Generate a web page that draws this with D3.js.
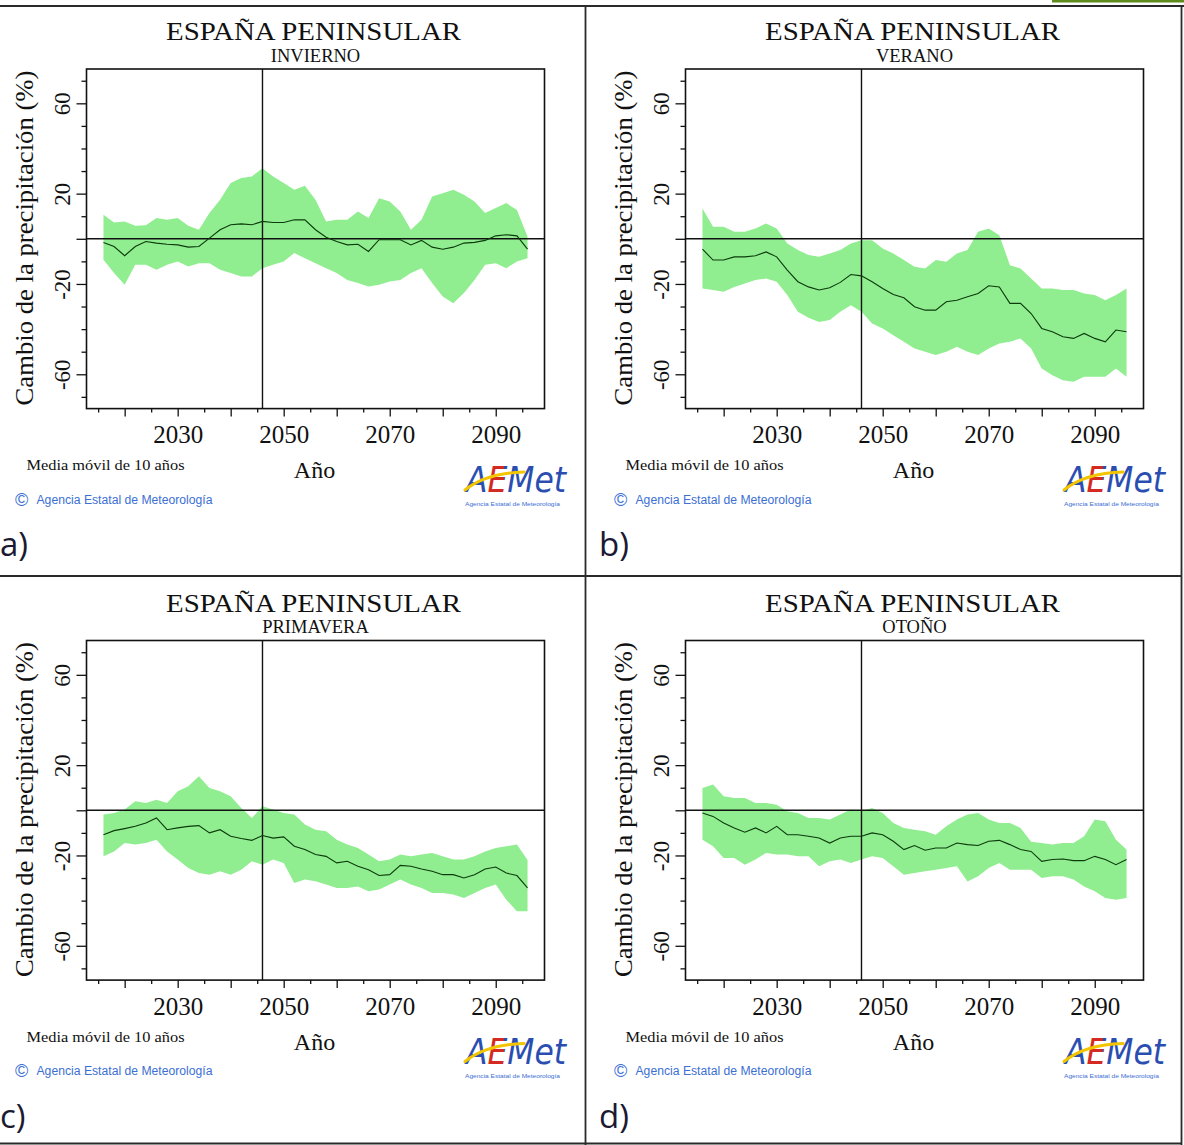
<!DOCTYPE html>
<html>
<head>
<meta charset="utf-8">
<script src="https://cdn.jsdelivr.net/npm/d3@7"></script>
<style>
html,body{margin:0;padding:0;background:#fff;}
svg{display:block;}
</style>
</head>
<body>
<svg id="chart" width="1184" height="1145"></svg>
<script>
// ---------------- DATA ----------------
const years = [2016,2018,2020,2022,2024,2026,2028,2030,2032,2034,2036,2038,2040,2042,2044,2046,2048,2050,2052,2054,2056,2058,2060,2062,2064,2066,2068,2070,2072,2074,2076,2078,2080,2082,2084,2086,2088,2090,2092,2094,2096];

const invUpper = [10.6,7.2,7.7,5.8,6,9.2,8.4,9.2,5.8,4,11.4,17.3,24.7,26.9,27.6,31.3,27.6,24.7,21.7,23.5,17.3,7.7,8.4,8.4,12.1,9.2,18,16.5,12.1,4,8.4,18.7,20.2,21.7,19.5,16.5,11.4,13.6,15.8,12.8,1];
const invLower = [-9.3,-15.2,-20.4,-11.5,-11.5,-13.7,-11.5,-10,-12.3,-10.8,-10.8,-13.7,-15.2,-16.7,-16.7,-13,-11.5,-10,-6.3,-8.6,-10.8,-13,-15.2,-18.2,-19.6,-21.1,-20.4,-18.9,-18.2,-15.2,-13,-19.6,-25.5,-28.5,-24,-18.2,-11.5,-10.8,-13,-10,-8.6];
const invMean  = [-1.6,-3.4,-7.5,-3.4,-1.2,-1.9,-2.4,-2.7,-3.7,-3.4,0.3,4,6.2,6.6,6.2,7.7,7.2,7.2,8.4,8.4,4,0.7,-1.2,-2.7,-2.4,-5.6,-0.4,-0.4,-0.4,-2.7,-0.7,-3.7,-4.6,-3.7,-1.9,-1.6,-0.7,1.3,1.8,1.3,-4.6];

const verUpper = [13.4,5.3,5.3,3.1,3.1,4.6,6.8,4.6,-2.1,-5,-7.2,-8,-6.5,-5,-2.1,-0.6,-0.6,-4.3,-6.5,-9.4,-12.4,-13.1,-9.4,-10.2,-6.5,-5,3.1,4.6,1.6,-11.7,-13.1,-17.6,-22,-22,-22.7,-22.7,-24.2,-24.9,-27.2,-24.9,-22];
const verLower = [-22,-22.7,-23.5,-21.3,-19.8,-18.3,-17.6,-19,-24.9,-32.3,-35,-36.8,-36,-32.3,-29.4,-32.3,-37.5,-39.7,-42.7,-45.6,-48.6,-50,-51.5,-50,-47.8,-50,-51.5,-48.6,-46.4,-45.6,-44.1,-48.6,-57.4,-60.4,-62.6,-63.3,-61.1,-61.1,-61.1,-57.4,-61.1];
const verMean  = [-4.6,-9.4,-9.4,-8,-8,-7.5,-5.8,-8,-13.9,-19,-21.3,-22.7,-21.7,-19.3,-15.8,-16.4,-19,-22,-24.7,-26.1,-30.1,-31.6,-31.6,-27.9,-27.2,-25.7,-24.2,-20.8,-21.3,-28.6,-28.6,-33.1,-39.7,-41.2,-43.4,-44.1,-41.9,-44.1,-45.6,-40.4,-41.2];

const primUpper = [-1.9,-1.2,0.3,4,3.2,4.7,3.2,8.4,10.6,15.1,9.9,8.4,6.2,1,-3.4,1.8,0.3,-1.2,-1.9,-6.3,-8.6,-9.3,-13,-15.2,-16.7,-19.6,-22.6,-21.8,-19.6,-20.4,-19.6,-18.9,-20.4,-21.8,-21.8,-20.4,-18.2,-16.7,-15.9,-15.2,-22];
const primLower = [-20.4,-18.2,-14.5,-15.2,-14.5,-13,-18.2,-21.8,-25.5,-27.8,-28.5,-27,-28.5,-26.3,-22.6,-24.1,-21.8,-23.3,-32.2,-30.7,-31.4,-32.9,-34.4,-34.4,-33.7,-35.9,-35.1,-32.9,-30.7,-32.9,-34.4,-36.6,-36.6,-37.3,-38.8,-36.6,-34.4,-32.9,-39.6,-44.7,-44.7];
const primMean  = [-10.8,-9,-8.1,-7.1,-5.6,-3.4,-8.6,-7.8,-7.1,-6.8,-10,-8.6,-11.5,-12.5,-13.3,-11.2,-12.3,-11.8,-15.9,-17.4,-19.6,-20.4,-23.3,-22.6,-24.8,-26.3,-28.9,-28.5,-24.4,-24.8,-26,-27,-28.5,-28.5,-30,-28.5,-26,-25.1,-27.8,-28.9,-34.4];

const otoUpper = [9.9,11.4,6.2,5.5,5.5,3.2,3.2,2.5,-0.4,-1.2,-3.4,-3.4,-4.1,-1.9,0.3,-0.4,1,-1.2,-5.6,-7.8,-8.6,-9.3,-10.8,-7.1,-4.1,-1.9,-1.2,-4.1,-5.6,-5.6,-7.8,-13.9,-14.5,-15.2,-14.5,-14.5,-11.5,-4.1,-4.9,-13,-17.4];
const otoLower = [-13,-15.9,-21.1,-21.1,-24.1,-21.8,-18.9,-19.6,-19.6,-20.4,-20.4,-24.8,-22.6,-21.8,-23.3,-21.8,-20.4,-21.1,-24.8,-28.5,-27.8,-27,-26.3,-25.5,-24.8,-31.5,-29.2,-25.5,-23.3,-26.3,-26.3,-26.3,-30,-29.2,-29.2,-30.7,-33.7,-35.9,-38.8,-39.6,-38.8];
const otoMean  = [-1.2,-2.7,-5.6,-7.8,-9.7,-7.8,-10,-7.1,-10.8,-10.8,-11.5,-12.3,-14.5,-12.3,-11.5,-11.5,-10,-10.8,-13.7,-17.4,-15.6,-17.7,-16.7,-16.7,-14.5,-15.2,-15.6,-13.7,-13.3,-15.2,-17.4,-18.2,-22.6,-21.8,-21.6,-22.3,-22.3,-20.4,-21.8,-24.1,-21.8];

const mainTitle = "ESPAÑA PENINSULAR";
const seasons = ["INVIERNO","VERANO","PRIMAVERA","OTOÑO"];
const panelLetters = ["a)","b)","c)","d)"];
const yAxisTitle = "Cambio de la precipitación (%)";
const xAxisTitle = "Año";
const noteText = "Media móvil de 10 años";
const creditText = "Agencia Estatal de Meteorología";
const logoText = "AEMet";
const refYear = 2046;

const xMinorTicks = [2015,2025,2035,2045,2055,2065,2075,2085,2095];
const xMajorTicks = [2020,2030,2040,2050,2060,2070,2080,2090];
const xLabelTicks = [2030,2050,2070,2090];
const yMinorTicks = [-70,-50,-40,-30,-10,10,30,40,50,70];
const yMajorTicks = [-60,-20,0,20,60];
const yLabelTicks = [-60,-20,20,60];

// ---------------- LAYOUT ----------------
const serif = "'Liberation Serif','Times New Roman',Times,serif";
const sans = "'Liberation Sans',Arial,sans-serif";
const svg = d3.select("#chart");
svg.append("rect").attr("width",1184).attr("height",1145).attr("fill","#fff");

// logo colour gradient (blue A, red E, blue Met)
const defs = svg.append("defs");
const grad = defs.append("linearGradient").attr("id","logoGrad")
  .attr("gradientUnits","userSpaceOnUse").attr("x1",466).attr("x2",566).attr("y1",0).attr("y2",0);
[[0,"#2b4db0"],[0.21,"#2b4db0"],[0.21,"#d42a22"],[0.385,"#d42a22"],[0.385,"#2b4db0"],[1,"#2b4db0"]]
  .forEach(s => grad.append("stop").attr("offset",s[0]).attr("stop-color",s[1]));

const panels = [
  {ox:0,   oy:0,     sub:seasons[0], letter:panelLetters[0], up:invUpper,  lo:invLower,  mean:invMean},
  {ox:599, oy:0,     sub:seasons[1], letter:panelLetters[1], up:verUpper,  lo:verLower,  mean:verMean},
  {ox:0,   oy:571.5, sub:seasons[2], letter:panelLetters[2], up:primUpper, lo:primLower, mean:primMean},
  {ox:599, oy:571.5, sub:seasons[3], letter:panelLetters[3], up:otoUpper,  lo:otoLower,  mean:otoMean}
];

const BL = 86.5, BW = 458, BT = 69, BH = 339.6;

panels.forEach(p => {
  const g = svg.append("g").attr("transform", `translate(${p.ox},${p.oy})`);
  const x = d3.scaleLinear().domain([2012.8, 2099.2]).range([BL, BL+BW]);
  const y = d3.scaleLinear().domain([-75.2, 75.2]).range([BT+BH, BT]);
  const pts = years.map((yr,i) => ({yr, up:p.up[i], lo:p.lo[i], m:p.mean[i]}));

  // band
  g.append("path").datum(pts)
    .attr("d", d3.area().x(d=>x(d.yr)).y0(d=>y(d.lo)).y1(d=>y(d.up)))
    .attr("fill","#90EE90");

  // reference lines
  g.append("line").attr("x1",BL).attr("x2",BL+BW).attr("y1",y(0)).attr("y2",y(0))
    .attr("stroke","#111").attr("stroke-width",1.4);
  g.append("line").attr("x1",x(refYear)).attr("x2",x(refYear)).attr("y1",BT).attr("y2",BT+BH)
    .attr("stroke","#111").attr("stroke-width",1.4);

  // mean line
  g.append("path").datum(pts)
    .attr("d", d3.line().x(d=>x(d.yr)).y(d=>y(d.m)))
    .attr("fill","none").attr("stroke","#0c3a0c").attr("stroke-width",1.1);

  // box
  g.append("rect").attr("x",BL).attr("y",BT).attr("width",BW).attr("height",BH)
    .attr("fill","none").attr("stroke","#111").attr("stroke-width",1.6);

  // x axis
  const gxMinor = g.append("g").attr("transform",`translate(0,${BT+BH})`)
    .call(d3.axisBottom(x).tickValues(xMinorTicks).tickSize(4).tickFormat(""));
  const gxMajor = g.append("g").attr("transform",`translate(0,${BT+BH})`)
    .call(d3.axisBottom(x).tickValues(xMajorTicks).tickSize(8)
      .tickFormat(d => xLabelTicks.includes(d) ? String(d) : ""));
  [gxMinor,gxMajor].forEach(a => {
    a.select(".domain").remove();
    a.selectAll("line").attr("stroke","#111").attr("stroke-width",1.3);
  });
  gxMinor.selectAll("text").remove();
  gxMajor.selectAll("text").filter(d => !xLabelTicks.includes(d)).remove();
  gxMajor.selectAll("text").attr("y",34.7).attr("dy",null)
    .attr("font-family",serif).attr("font-size",25).attr("fill","#111");

  // y axis
  const gyMinor = g.append("g").attr("transform",`translate(${BL},0)`)
    .call(d3.axisLeft(y).tickValues(yMinorTicks).tickSize(5).tickFormat(""));
  const gyMajor = g.append("g").attr("transform",`translate(${BL},0)`)
    .call(d3.axisLeft(y).tickValues(yMajorTicks).tickSize(10)
      .tickFormat(d => yLabelTicks.includes(d) ? String(d) : ""));
  [gyMinor,gyMajor].forEach(a => {
    a.select(".domain").remove();
    a.selectAll("line").attr("stroke","#111").attr("stroke-width",1.3);
  });
  gyMinor.selectAll("text").remove();
  gyMajor.selectAll("text").filter(d => !yLabelTicks.includes(d)).remove();
  gyMajor.selectAll("text").attr("x",0).attr("y",0).attr("dy",null)
    .attr("text-anchor","middle").attr("transform","translate(-17,0) rotate(-90)")
    .attr("font-family",serif).attr("font-size",23).attr("fill","#111");

  // titles
  const cx = BL + BW/2;
  g.append("text").attr("x",cx-2).attr("y",40).attr("text-anchor","middle")
    .attr("font-family",serif).attr("font-size",25).attr("fill","#111")
    .attr("textLength",295).attr("lengthAdjust","spacingAndGlyphs").text(mainTitle);
  g.append("text").attr("x",cx).attr("y",61.5).attr("text-anchor","middle")
    .attr("font-family",serif).attr("font-size",18.5).attr("fill","#111").text(p.sub);

  // axis titles
  g.append("text").attr("transform","translate(33,238) rotate(-90)").attr("text-anchor","middle")
    .attr("font-family",serif).attr("font-size",26).attr("fill","#111")
    .attr("textLength",335).attr("lengthAdjust","spacingAndGlyphs").text(yAxisTitle);
  g.append("text").attr("x",cx-1).attr("y",478).attr("text-anchor","middle")
    .attr("font-family",serif).attr("font-size",24).attr("fill","#111").text(xAxisTitle);

  // notes
  g.append("text").attr("x",26.5).attr("y",470)
    .attr("font-family",serif).attr("font-size",15).attr("fill","#111")
    .attr("textLength",158).attr("lengthAdjust","spacingAndGlyphs").text(noteText);
  g.append("text").attr("x",15).attr("y",505.5)
    .attr("font-family",sans).attr("font-size",18).attr("fill","#3b6fd4").text("©");
  g.append("text").attr("x",36.5).attr("y",503.5)
    .attr("font-family",sans).attr("font-size",12).attr("fill","#3b6fd4")
    .attr("textLength",176).attr("lengthAdjust","spacingAndGlyphs").text(creditText);

  // AEMet logo
  const logo = g.append("g");
  logo.append("text").attr("x",466).attr("y",492)
    .attr("font-family","'DejaVu Sans',sans-serif").attr("font-style","italic").attr("font-size",36)
    .attr("textLength",100).attr("lengthAdjust","spacingAndGlyphs")
    .attr("fill","url(#logoGrad)").text(logoText);
  logo.append("path").attr("d","M465,490 Q486,473 524,472")
    .attr("fill","none").attr("stroke","#f2c500").attr("stroke-width",3).attr("stroke-linecap","round");
  logo.append("text").attr("x",465).attr("y",506)
    .attr("font-family",sans).attr("font-size",5).attr("fill","#3b6fd4")
    .attr("textLength",95).attr("lengthAdjust","spacingAndGlyphs").text(creditText);

  // panel letter
  g.append("text").attr("x",0).attr("y",556).attr("font-family","'Open Sans',sans-serif")
    .attr("font-size",33).attr("fill","#1a1a33").text(p.letter);
});

// frame lines
const frame = svg.append("g").attr("stroke","#2a2a2a").attr("stroke-width",1.8);
frame.append("line").attr("x1",0).attr("x2",1184).attr("y1",6).attr("y2",6);
frame.append("line").attr("x1",585.5).attr("x2",585.5).attr("y1",6).attr("y2",1145);
frame.append("line").attr("x1",0).attr("x2",1182).attr("y1",576).attr("y2",576);
frame.append("line").attr("x1",1181.5).attr("x2",1181.5).attr("y1",6).attr("y2",1145);
frame.append("line").attr("x1",0).attr("x2",1182).attr("y1",1143.5).attr("y2",1143.5);
svg.append("rect").attr("x",1052).attr("y",0).attr("width",132).attr("height",2.5).attr("fill","#5f8a1e");
</script>
</body>
</html>
